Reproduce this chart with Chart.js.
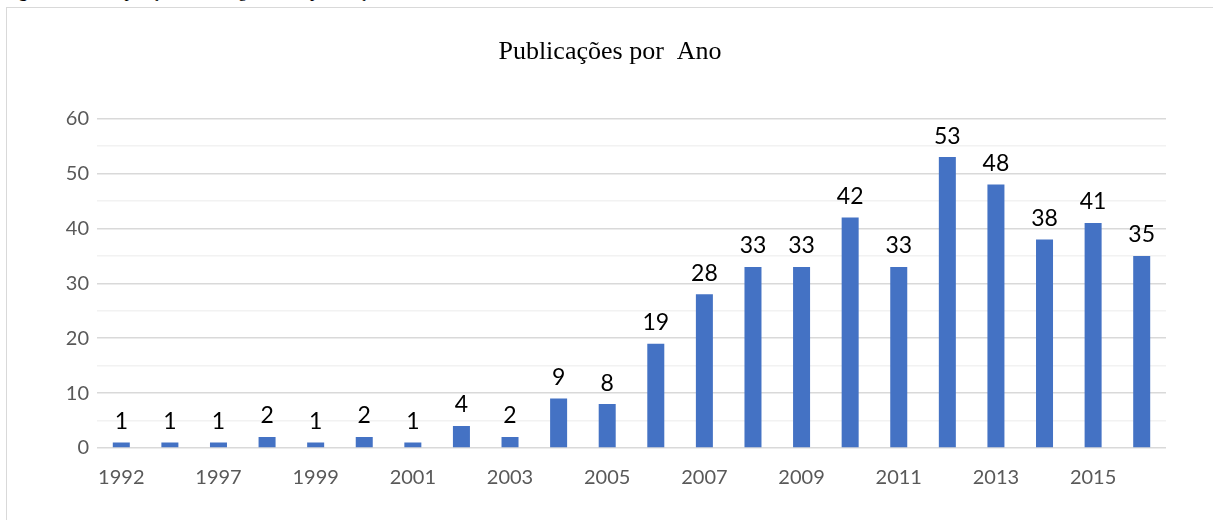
<!DOCTYPE html>
<html>
<head>
<meta charset="utf-8">
<script src="https://cdn.jsdelivr.net/npm/chart.js@4"></script>
<style>
  html, body { margin: 0; padding: 0; background: #fff; overflow: hidden; }
  #wrap { position: relative; width: 1213px; height: 520px; overflow: hidden; }
  #caption {
    position: absolute; left: 4px; top: -16px; white-space: nowrap; word-spacing: 6px;
    font-family: 'Liberation Serif', serif; font-size: 17px; line-height: 16px; color: #000;
  }
  #frame {
    position: absolute; left: 6px; top: 7px; width: 1300px; height: 600px;
    border: 1.5px solid #d9d9d9; box-sizing: border-box;
  }
  #myChart { position: absolute; left: 0; top: 0; }
</style>
</head>
<body>
<div id="wrap">
  <div id="caption"><b>Figura 2</b> – Disposição cronológica das publicações analisadas, 1992–2016</div>
  <div id="frame"></div>
  <canvas id="myChart" width="1213" height="520"></canvas>
</div>
<script>
const years = ['1992', '1996', '1997', '1998', '1999', '2000', '2001', '2002', '2003', '2004', '2005',
  '2006', '2007', '2008', '2009', '2010', '2011', '2012', '2013', '2014', '2015', '2016'];
const publications = [1, 1, 1, 2, 1, 2, 1, 4, 2, 9, 8, 19, 28, 33, 33, 42, 33, 53, 48, 38, 41, 35];
const yTicks = [0, 10, 20, 30, 40, 50, 60];

// draw the value above each bar
const valueLabels = {
  id: 'valueLabels',
  afterDatasetsDraw(chart) {
    const ctx = chart.ctx;
    const meta = chart.getDatasetMeta(0);
    ctx.save();
    ctx.font = "23px Lato";
    ctx.fillStyle = '#000';
    ctx.textAlign = 'center';
    ctx.textBaseline = 'middle';
    meta.data.forEach((bar, i) => {
      ctx.fillText(String(publications[i]), bar.x, bar.y - 21);
    });
    ctx.restore();
  }
};

const ctx = document.getElementById('myChart').getContext('2d');

document.fonts.ready.then(() => {
  new Chart(ctx, {
    type: 'bar',
    data: {
      labels: years,
      datasets: [{
        label: 'Publicações',
        data: publications,
        backgroundColor: '#4472C4',
        barPercentage: 0.7,
        categoryPercentage: 0.5
      }]
    },
    options: {
      responsive: false,
      animation: false,
      layout: { padding: { left: 54, right: 47, top: 0, bottom: 0 } },
      plugins: {
        legend: { display: false },
        tooltip: { enabled: false },
        title: {
          display: true,
          text: 'Publicações por  Ano',
          font: { family: "'Liberation Serif', serif", size: 26, weight: '400' },
          color: '#000',
          padding: { top: 37, bottom: 50.5 }
        }
      },
      scales: {
        x: {
          grid: { display: false },
          border: { display: false },
          ticks: {
            autoSkip: false,
            maxRotation: 0,
            padding: 10,
            color: '#595959',
            font: { family: 'Lato', size: 20 },
            callback: function (value, index) {
              return index % 2 === 0 ? this.getLabelForValue(value) : '';
            }
          },
          afterFit: (s) => { s.height = 72; }
        },
        y: {
          min: 0,
          max: 60,
          border: { display: false },
          grid: {
            drawTicks: false,
            lineWidth: 1.5,
            color: (c) => (yTicks.includes(c.tick.value) ? '#d9d9d9' : '#f2f2f2')
          },
          ticks: {
            stepSize: 5,
            padding: 8,
            color: '#595959',
            font: { family: 'Lato', size: 20 },
            callback: (value) => (yTicks.includes(value) ? value : '')
          },
          afterFit: (s) => { s.width = 43; }
        }
      }
    },
    plugins: [valueLabels]
  });
});
</script>
</body>
</html>
